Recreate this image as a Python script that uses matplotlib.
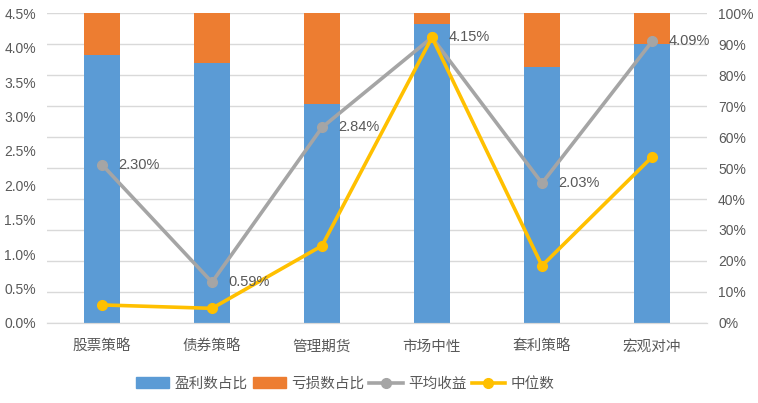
import matplotlib
matplotlib.use("Agg")
import matplotlib.pyplot as plt
from matplotlib.patches import Patch
from matplotlib.lines import Line2D
from matplotlib.ticker import FuncFormatter

plt.rcParams['font.family'] = ['Liberation Sans', 'Noto Sans CJK SC']
cjk = ['Noto Sans CJK SC', 'DejaVu Sans']

categories = ['股票策略', '债券策略', '管理期货', '市场中性', '套利策略', '宏观对冲']
profit_share = [86.5, 84.0, 70.8, 96.5, 82.6, 90.2]   # %
loss_share = [100 - p for p in profit_share]
avg_return = [2.30, 0.59, 2.84, 4.15, 2.03, 4.09]      # %
median_return = [0.26, 0.21, 1.12, 4.15, 0.83, 2.41]   # %

blue = '#5B9BD5'
orange = '#ED7D31'
gray = '#A5A5A5'
yellow = '#FFC000'
txt = '#595959'

fig = plt.figure(figsize=(7.58, 4.03), dpi=100)
ax = fig.add_axes([0.062, 0.199, 0.8707, 0.768])
x = list(range(len(categories)))

# bars on the right (0-100%) axis
ax.bar(x, profit_share, width=0.32, color=blue, zorder=2)
ax.bar(x, loss_share, width=0.32, bottom=profit_share, color=orange, zorder=2)
ax.set_ylim(0, 100)
ax.set_yticks(range(0, 101, 10))
ax.grid(axis='y', color='#D9D9D9', linewidth=1, zorder=0)
ax.set_axisbelow(True)

# lines on the left (0-4.5%) axis
ax2 = ax.twinx()
ax.yaxis.tick_right()
ax.yaxis.set_major_formatter(FuncFormatter(lambda v, p: '%d%%' % v))
ax2.plot(x, avg_return, color=gray, linewidth=2.6, marker='o', markersize=7, zorder=3)
ax2.plot(x, median_return, color=yellow, linewidth=2.6, marker='o', markersize=7, zorder=4)
ax2.set_ylim(0, 4.5)
ax2.set_yticks([i * 0.5 for i in range(10)])
ax2.yaxis.tick_left()
ax2.yaxis.set_major_formatter(FuncFormatter(lambda v, p: '%.1f%%' % v))
for xi, v in zip(x, avg_return):
    ax2.annotate('%.2f%%' % v, (xi, v), xytext=(12, 0), textcoords='offset points',
                 ha='left', va='center', fontsize=10.5, color=txt, zorder=5)

ax.set_xlim(-0.5, len(categories) - 0.5)
ax.set_xticks(x)
ax.set_xticklabels(categories, fontsize=10.5, color=txt, family=cjk)

for a in (ax, ax2):
    for s in ('top', 'left', 'right'):
        a.spines[s].set_visible(False)
    a.spines['bottom'].set_color('#D9D9D9')
    a.tick_params(length=0, labelsize=10, labelcolor=txt)
ax.tick_params(axis='x', labelsize=10.5, pad=12)
ax.tick_params(axis='y', pad=8)
ax2.tick_params(axis='y', pad=8)

handles = [Patch(color=blue), Patch(color=orange),
           Line2D([], [], color=gray, linewidth=2.6, marker='o', markersize=7),
           Line2D([], [], color=yellow, linewidth=2.6, marker='o', markersize=7)]
labels = ['盈利数占比', '亏损数占比', '平均收益', '中位数']
fig.legend(handles, labels, loc='center', bbox_to_anchor=(0.455, 0.048), ncol=4,
           frameon=False, prop={'family': cjk, 'size': 10.5}, labelcolor=txt,
           handlelength=2.3, handletextpad=0.35, columnspacing=0.35)

fig.savefig('out.png', dpi=100)
